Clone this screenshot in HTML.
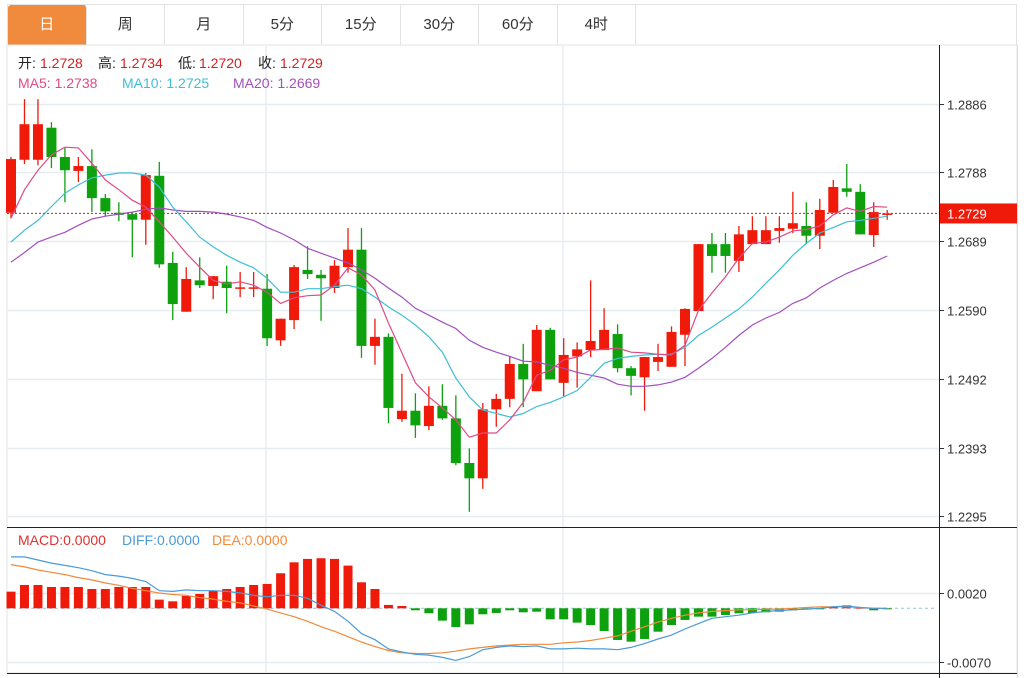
<!DOCTYPE html>
<html><head><meta charset="utf-8">
<style>
body{margin:0;width:1035px;height:678px;background:#fff;overflow:hidden;font-family:"Liberation Sans","Noto Sans CJK SC",sans-serif;}
#tabs{position:absolute;left:7px;top:4px;height:41px;width:1010px;border:1px solid #e3e3e3;border-bottom:none;display:flex;box-sizing:border-box;}
.tab{width:78.5px;height:40px;line-height:40px;text-align:center;font-size:15px;color:#333;border-right:1px solid #e3e3e3;box-sizing:border-box;}
.tab.active{background:#f08a3c;color:#fff;border-radius:3px 3px 0 0;}
svg{position:absolute;left:0;top:0;}
</style></head><body>
<div id="tabs">
<div class="tab active">日</div>
<div class="tab">周</div>
<div class="tab">月</div>
<div class="tab">5分</div>
<div class="tab">15分</div>
<div class="tab">30分</div>
<div class="tab">60分</div>
<div class="tab">4时</div>
</div>
<svg id="chart" width="1035" height="678"></svg>
<script>
const opens=[1.2730,1.2806,1.2806,1.2852,1.2810,1.2790,1.2797,1.2751,1.2730,1.2728,1.2720,1.2783,1.2658,1.2588,1.2633,1.2625,1.2631,1.2621,1.2621,1.2621,1.2547,1.2576,1.2648,1.2641,1.2622,1.2652,1.2677,1.2539,1.2552,1.2434,1.2446,1.2424,1.2453,1.2435,1.2371,1.2349,1.2448,1.2463,1.2513,1.2474,1.2562,1.2486,1.2524,1.2533,1.2533,1.2556,1.2507,1.2494,1.2516,1.2509,1.2555,1.2589,1.2685,1.2685,1.2661,1.2685,1.2685,1.2704,1.2707,1.2711,1.2697,1.2730,1.2765,1.2760,1.2698,1.2728];
const highs=[1.2810,1.2893,1.2893,1.2860,1.2823,1.2810,1.2821,1.2757,1.2745,1.2731,1.2787,1.2803,1.2674,1.2652,1.2666,1.2639,1.2654,1.2645,1.2645,1.2642,1.2578,1.2655,1.2682,1.2648,1.2662,1.2708,1.2708,1.2578,1.2557,1.2499,1.2471,1.2481,1.2484,1.2468,1.2392,1.2457,1.2470,1.2524,1.2542,1.2569,1.2565,1.2550,1.2544,1.2633,1.2593,1.2570,1.2510,1.2523,1.2542,1.2567,1.2593,1.2685,1.2701,1.2701,1.2711,1.2725,1.2725,1.2725,1.2760,1.2745,1.2750,1.2777,1.2800,1.2771,1.2745,1.2734];
const lows=[1.2722,1.2800,1.2798,1.2794,1.2745,1.2774,1.2731,1.2725,1.2718,1.2666,1.2684,1.2651,1.2576,1.2588,1.2622,1.2606,1.2586,1.2609,1.2609,1.2539,1.2539,1.2563,1.2635,1.2575,1.2615,1.2644,1.2522,1.2512,1.2428,1.2430,1.2407,1.2418,1.2433,1.2368,1.2301,1.2334,1.2423,1.2451,1.2451,1.2474,1.2491,1.2467,1.2479,1.2523,1.2533,1.2501,1.2468,1.2446,1.2503,1.2509,1.2510,1.2589,1.2644,1.2644,1.2645,1.2685,1.2685,1.2687,1.2701,1.2685,1.2678,1.2730,1.2753,1.2699,1.2681,1.2720];
const closes=[1.2807,1.2857,1.2857,1.2810,1.2791,1.2797,1.2751,1.2732,1.2727,1.2720,1.2784,1.2656,1.2599,1.2635,1.2626,1.2639,1.2622,1.2623,1.2623,1.2550,1.2578,1.2652,1.2642,1.2636,1.2654,1.2677,1.2539,1.2552,1.2450,1.2446,1.2425,1.2453,1.2435,1.2371,1.2349,1.2448,1.2463,1.2513,1.2491,1.2562,1.2491,1.2526,1.2534,1.2546,1.2562,1.2507,1.2496,1.2523,1.2523,1.2559,1.2592,1.2685,1.2668,1.2668,1.2699,1.2705,1.2705,1.2708,1.2715,1.2697,1.2734,1.2767,1.2760,1.2699,1.2731,1.2729];
const ma5=[1.2722,1.2763,1.2791,1.2813,1.2824,1.2823,1.2801,1.2777,1.2763,1.2748,1.2738,1.2717,1.2695,1.2672,1.2652,1.2633,1.2628,1.2631,1.2626,1.2616,1.2600,1.2608,1.2611,1.2612,1.2626,1.2651,1.2641,1.2619,1.2572,1.2529,1.2486,1.2466,1.2450,1.2433,1.2408,1.2414,1.2414,1.2433,1.2458,1.2497,1.2504,1.2519,1.2523,1.2533,1.2534,1.2536,1.2530,1.2529,1.2527,1.2526,1.2540,1.2590,1.2615,1.2638,1.2665,1.2686,1.2688,1.2695,1.2704,1.2706,1.2711,1.2727,1.2737,1.2732,1.2739,1.2738];
const ma10=[1.2688,1.2705,1.2719,1.2739,1.2758,1.2770,1.2780,1.2784,1.2787,1.2787,1.2784,1.2767,1.2738,1.2717,1.2695,1.2681,1.2669,1.2659,1.2651,1.2636,1.2616,1.2616,1.2621,1.2621,1.2624,1.2626,1.2621,1.2609,1.2595,1.2583,1.2569,1.2552,1.2530,1.2493,1.2466,1.2447,1.2442,1.2437,1.2442,1.2452,1.2458,1.2466,1.2475,1.2494,1.2514,1.2521,1.2524,1.2526,1.2527,1.2527,1.2537,1.2554,1.2566,1.2579,1.2592,1.2609,1.2629,1.2648,1.2669,1.2686,1.2701,1.2709,1.2717,1.2719,1.2722,1.2725];
const ma20=[1.2659,1.2673,1.2688,1.2695,1.2702,1.2712,1.2721,1.2725,1.2728,1.2731,1.2735,1.2737,1.2734,1.2732,1.2732,1.2731,1.2728,1.2724,1.2719,1.2709,1.2701,1.2691,1.2679,1.2672,1.2665,1.2658,1.2648,1.2636,1.2622,1.2609,1.2593,1.2583,1.2573,1.2564,1.2547,1.2537,1.2530,1.2524,1.2517,1.2516,1.2511,1.2507,1.2501,1.2497,1.2493,1.2484,1.2481,1.2481,1.2483,1.2487,1.2494,1.2507,1.2521,1.2537,1.2554,1.2569,1.2579,1.2587,1.2600,1.2608,1.2622,1.2633,1.2643,1.2651,1.2659,1.2668];
const macdBars=[0.00217,0.00304,0.00304,0.00278,0.00278,0.00278,0.00252,0.00252,0.00278,0.00278,0.00278,0.00113,0.00091,0.00161,0.00187,0.00226,0.00252,0.00278,0.00304,0.00318,0.00457,0.0060,0.00644,0.00653,0.00644,0.00557,0.00339,0.00252,0.00044,0.0003,-0.00026,-0.00065,-0.00161,-0.00244,-0.00209,-0.00078,-0.00061,-0.00026,-0.00052,-0.00044,-0.00144,-0.00144,-0.00187,-0.00218,-0.00296,-0.00413,-0.00435,-0.004,-0.00305,-0.00218,-0.00152,-0.00109,-0.00109,-0.00087,-0.00065,-0.00061,-0.00052,-0.00044,-0.00026,-0.00017,-0.00009,0.00017,0.00039,0.00009,-0.00026,-0.00004];
const diff=[0.0067,0.0067,0.0063,0.0059,0.0056,0.0053,0.0049,0.0044,0.0042,0.0039,0.0035,0.0023,0.0022,0.0024,0.0023,0.0023,0.0022,0.0020,0.0017,0.0015,0.0017,0.0017,0.0013,0.0004,-0.0004,-0.0017,-0.0033,-0.0041,-0.0053,-0.0057,-0.0060,-0.0061,-0.0064,-0.0068,-0.0063,-0.0054,-0.0051,-0.0049,-0.0050,-0.0049,-0.0053,-0.0053,-0.0052,-0.0053,-0.0053,-0.0054,-0.0051,-0.0046,-0.0040,-0.0035,-0.0027,-0.0020,-0.0013,-0.0011,-0.0009,-0.0006,-0.0004,-0.0003,-0.0002,-0.0001,0,0.0002,0.0003,0.0001,0,0];
const dea=[0.0057,0.0054,0.0050,0.0047,0.0044,0.0040,0.0037,0.0033,0.0030,0.0026,0.0023,0.0020,0.0018,0.0017,0.0014,0.0012,0.0009,0.0007,0.0003,-0.0001,-0.0006,-0.0011,-0.0017,-0.0024,-0.0030,-0.0037,-0.0044,-0.0050,-0.0055,-0.0058,-0.0059,-0.0059,-0.0058,-0.0056,-0.0053,-0.0051,-0.0049,-0.0048,-0.0047,-0.0047,-0.0047,-0.0045,-0.0044,-0.0042,-0.0039,-0.0036,-0.0030,-0.0024,-0.0018,-0.0013,-0.0009,-0.0006,-0.0004,-0.0003,-0.0002,-0.0002,-0.0001,-0.0001,0,0.0001,0.0002,0.0002,0.0002,0.0001,0,0];
const priceTicks=[1.2886,1.2788,1.2689,1.2590,1.2492,1.2393,1.2295];
const macdTicks=[0.0020,-0.0070];
const lastPrice=1.2729;

const NS="http://www.w3.org/2000/svg";
const svg=document.getElementById('chart');
function el(tag,attrs,parent){const e=document.createElementNS(NS,tag);for(const k in attrs)e.setAttribute(k,attrs[k]);(parent||svg).appendChild(e);return e;}
const yP=p=>104+(1.2886-p)*6971;
const yM=v=>608.3-v*7667;
const xI=i=>11+i*13.48;
const RED='#f01a0a',GREEN='#0ea10e';

// frame
let f=el('rect',{x:7,y:45,width:1010,height:628,fill:'none',stroke:'#e3e3e3'});

[266,563].forEach(x=>{el('line',{x1:x,y1:46,x2:x,y2:673,stroke:'#e8eef3','stroke-width':1.5});});
priceTicks.forEach(t=>{
  const y=Math.round(yP(t))+0.5;
  el('line',{x1:7,y1:y,x2:939,y2:y,stroke:'#e6edf2','stroke-width':1.5});
  el('line',{x1:939,y1:y,x2:944,y2:y,stroke:'#333'});
  const tx=el('text',{x:947,y:y+5,'font-size':13,fill:'#333'});tx.textContent=t.toFixed(4);
  
});
macdTicks.forEach(t=>{
  const y=Math.round(yM(t))+0.5;
  el('line',{x1:7,y1:y,x2:939,y2:y,stroke:'#e6edf2','stroke-width':1.5});
  el('line',{x1:939,y1:y,x2:944,y2:y,stroke:'#333'});
  const tx=el('text',{x:947,y:y+5,'font-size':13,fill:'#333'});tx.textContent=t.toFixed(4);
  
});
el('line',{x1:939.5,y1:45,x2:939.5,y2:678,stroke:'#222'});
el('line',{x1:7,y1:527.5,x2:1017,y2:527.5,stroke:'#222'});
el('line',{x1:7,y1:673.5,x2:1017,y2:673.5,stroke:'#222'});
el('line',{x1:1017.5,y1:45,x2:1017.5,y2:678,stroke:'#ddd'});

// candles
opens.forEach((o,i)=>{
  const c=closes[i],up=c>=o,col=up?RED:GREEN,x=xI(i);
  const g=el('g',{});
  
  
  el('line',{x1:x,y1:yP(highs[i]),x2:x,y2:yP(lows[i]),stroke:col,'stroke-width':1.3},g);
  const top=yP(Math.max(o,c)),bot=yP(Math.min(o,c));
  el('rect',{x:x-5,y:top,width:10,height:Math.max(1.5,bot-top),fill:col},g);
});
// MA lines
function line(arr,ys,col,name,dash){
  const d=arr.map((v,i)=>(i?'L':'M')+xI(i).toFixed(1)+','+ys(v).toFixed(1)).join('');
  const p=el('path',{d:d,fill:'none',stroke:col,'stroke-width':1.2});
  
  
}
line(ma20,yP,'#a24fc0','ma20-line');
line(ma10,yP,'#3fbfd6','ma10-line');
line(ma5,yP,'#e04a86','ma5-line');
// last price
const ly=yP(lastPrice);
el('line',{x1:7,y1:ly,x2:939,y2:ly,stroke:'#e03030','stroke-dasharray':'2,2','stroke-width':1.2});
const lb=el('rect',{x:940,y:ly-10,width:77,height:20,fill:'#f01a0a'});

const lt=el('text',{x:947,y:ly+5,'font-size':13,fill:'#fff'});lt.textContent=lastPrice.toFixed(4);

// MACD
const zy=yM(0);
el('line',{x1:7,y1:zy,x2:935,y2:zy,stroke:'#8cc8e0','stroke-dasharray':'3,3'});
macdBars.forEach((v,i)=>{
  const r=el('rect',{x:xI(i)-4.5,y:Math.min(zy,yM(v)),width:9,height:Math.max(1,Math.abs(yM(v)-zy)),fill:v>=0?RED:GREEN});
  
  
});
line(dea,yM,'#f08a3c','dea-line');
line(diff,yM,'#4a9ad8','diff-line');

// headers
function txt(x,y,s,col,name){const t=el('text',{x:x,y:y,'font-size':14,fill:col});t.textContent=s;return t;}
const hdr=[['开:',18,'#222'],['1.2728',40,'#d42020'],['高:',98,'#222'],['1.2734',120,'#d42020'],['低:',178,'#222'],['1.2720',199,'#d42020'],['收:',258,'#222'],['1.2729',280,'#d42020']];
hdr.forEach(h=>txt(h[1],68,h[0],h[2],'ohlc-info'));
txt(18,88,'MA5: 1.2738','#e04a86','ma5-legend');
txt(122,88,'MA10: 1.2725','#3fbfd6','ma10-legend');
txt(233,88,'MA20: 1.2669','#a24fc0','ma20-legend');
const m1=txt(18,545,'MACD:0.0000','#e03030','macd-legend');
const m2=txt(122,545,'DIFF:0.0000','#4a9ad8','diff-legend');
const m3=txt(212,545,'DEA:0.0000','#f08a3c','dea-legend');
</script>
</body></html>
